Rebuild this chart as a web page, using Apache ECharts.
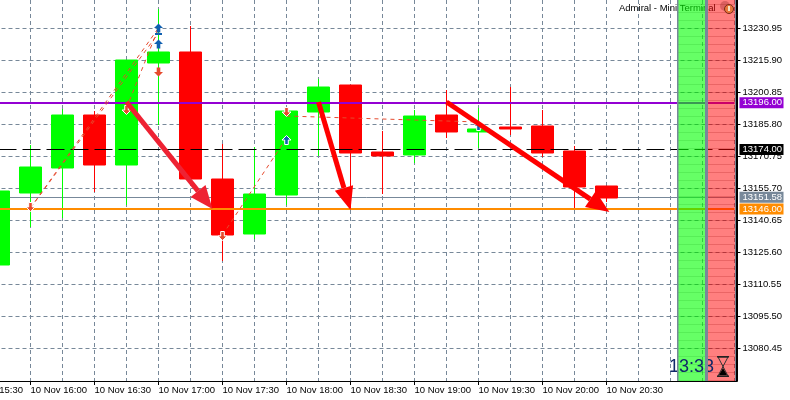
<!DOCTYPE html>
<html><head><meta charset="utf-8">
<style>html,body{margin:0;padding:0;background:#fff}#c{width:790px;height:400px}</style>
<script src="https://cdn.jsdelivr.net/npm/echarts@6/dist/echarts.min.js"></script>
</head><body><div id="c"></div>
<script>
const categories = ['15:30','15:45','16:00','16:15','16:30','16:45','17:00','17:15','17:30','17:45','18:00','18:15','18:30','18:45','19:00','19:15','19:30','19:45','20:00','20:15','20:30','20:45','21:00','21:15','21:30'];
// [open, close, low, high]
const candles = [
  '-',
  [13119.71,13154.52,13119.71,13154.52],
  [13153.57,13165.80,13137.58,13176.15],
  [13165.33,13190.26,13141.81,13193.09],
  [13190.26,13166.74,13154.05,13192.14],
  [13166.74,13216.13,13147.93,13216.13],
  [13214.72,13219.90,13185.56,13240.12],
  [13219.90,13160.16,13160.16,13232.12],
  [13160.16,13133.82,13121.59,13176.62],
  [13134.29,13153.10,13131.94,13175.21],
  [13152.63,13192.14,13147.93,13192.14],
  [13191.67,13203.43,13170.98,13207.20],
  [13204.37,13172.39,13145.58,13204.37],
  [13172.86,13170.98,13153.10,13182.74],
  [13171.45,13189.79,13167.68,13192.61],
  [13190.26,13182.27,13179.44,13202.02],
  [13182.27,13183.68,13174.74,13193.56],
  [13184.62,13183.68,13180.86,13203.43],
  [13185.09,13172.39,13170.50,13192.61],
  [13173.33,13156.40,13146.52,13175.68],
  [13156.87,13151.22,13149.34,13156.87],
  '-','-','-','-'
];
const yTicks = [13230.95,13215.90,13200.85,13185.80,13170.75,13155.70,13140.65,13125.60,13110.55,13095.50,13080.45];
const levelPurple = 13196.00, levelBlack = 13174.00, levelGray = 13151.58, levelOrange = 13146.00;
// x in category-index units: [x1, y1, x2, y2]
const tradeLines = [
  [2,13146.52,6,13231.19],
  [2,13146.52,6,13228.83],
  [5,13193.56,6,13231.19],
  [8,13133.82,10,13179.44],
  [10,13189.79,16,13186.97]
];
const arrowsSoft = [[5,13196.38,7.6875,13146.05]];
const arrowsPure = [[11,13196.38,12,13145.58],[15,13196.38,20.09,13144.64]];
const buyPlain = [[6,13231.19],[6,13223.66]];
const buyOutlined = [[10,13178.50],[16,13185.09]];
const buyDash = [[6,13228.36]];
const sellPlain = [[6,13210.50]];
const sellOutlined = [[5,13192.61],[2,13146.99],[8,13133.35],[10,13191.67]];

const UP='path://M5 0 L10 5 L7 5 L7 10 L3 10 L3 5 L0 5 Z';
const DOWN='path://M3 0 L7 0 L7 5 L10 5 L5 10 L0 5 L3 5 Z';
const BLUE='#1060b0', ORANGERED='#e64a2e', GRID='#778899';
const FONT='Liberation Sans, sans-serif';
const showTick=i=>i%2===0&&i<=20;

function tag(value,bg,lineStyle){
  return {yAxis:value,lineStyle:lineStyle,symbol:'none',
    label:{show:true,position:'end',distance:5,formatter:value.toFixed(2),color:'#fff',backgroundColor:bg,
      fontFamily:FONT,fontSize:9.5,padding:[1,3,0,3],height:10,width:38,align:'left',lineHeight:10}};
}
function levelSeries(z,items){
  return {type:'line',data:[],xAxisIndex:0,yAxisIndex:0,z:z,silent:true,
    markLine:{silent:true,symbol:'none',animation:false,z:z,data:items}};
}
function arrowSeries(data,color){
  return {type:'custom',xAxisIndex:1,yAxisIndex:0,z:8,silent:true,clip:false,data:data,
    encode:{x:[0,2],y:[1,3]},
    renderItem(params,api){
      const a=api.coord([api.value(0),api.value(1)]), b=api.coord([api.value(2),api.value(3)]);
      const dx=b[0]-a[0],dy=b[1]-a[1],L=Math.hypot(dx,dy),ux=dx/L,uy=dy/L;
      const hl=23,hw=9.5,mx=b[0]-ux*hl,my=b[1]-uy*hl;
      return {type:'group',children:[
        {type:'line',shape:{x1:a[0],y1:a[1],x2:mx,y2:my},style:{stroke:color,lineWidth:5,fill:null}},
        {type:'polygon',shape:{points:[[b[0],b[1]],[mx-uy*hw,my+ux*hw],[mx+uy*hw,my-ux*hw]]},style:{fill:color}}
      ]};
    }};
}
function markerSeries(data,symbol,color,size,border){
  return {type:'scatter',xAxisIndex:1,yAxisIndex:0,z:7,silent:true,data:data,symbol:symbol,symbolSize:size,
    itemStyle:{color:color,opacity:1,borderColor:border?'#fff':color,borderWidth:border?1:0}};
}

// Panels and overlays
const gfx=[];
gfx.push({type:'text',z:90,style:{x:619,y:3,text:'Admiral - Mini Terminal',fill:'#000',font:'9.5px Liberation Sans, sans-serif'}});
gfx.push({type:'rect',z:100,shape:{x:678,y:0,width:27,height:381},style:{fill:'rgba(0,255,0,0.6)'}});
gfx.push({type:'rect',z:100,shape:{x:708,y:0,width:27,height:381},style:{fill:'rgba(255,0,0,0.5)'}});
for(let y=4;y<381;y+=8){
  gfx.push({type:'rect',z:101,shape:{x:678,y:y,width:27,height:1},style:{fill:'rgba(0,140,0,0.14)'}});
  gfx.push({type:'rect',z:101,shape:{x:708,y:y,width:27,height:1},style:{fill:'rgba(150,0,0,0.2)'}});
}
gfx.push({type:'text',z:101,style:{x:669,y:358,text:'13:33',fill:'#102868',font:'18px Liberation Sans, sans-serif'}});
gfx.push({type:'rect',z:102,shape:{x:677,y:0,width:1.5,height:381},style:{fill:GRID}});
gfx.push({type:'rect',z:102,shape:{x:705,y:0,width:3,height:381},style:{fill:GRID}});
gfx.push({type:'rect',z:102,shape:{x:735,y:0,width:1,height:381},style:{fill:GRID}});
gfx.push({type:'rect',z:103,shape:{x:734,y:381,width:3,height:1},style:{fill:'#000'}});
// hourglass
gfx.push({type:'polyline',z:104,shape:{points:[[718,357],[728,357],[718,376],[728,376],[718,357]]},style:{stroke:'#333',fill:null,lineWidth:1}});
gfx.push({type:'rect',z:104,shape:{x:717,y:356,width:12,height:1.5},style:{fill:'#222'}});
gfx.push({type:'rect',z:104,shape:{x:717,y:375.5,width:12,height:1.5},style:{fill:'#222'}});
gfx.push({type:'polygon',z:104,shape:{points:[[723,368],[719,375],[727,375]]},style:{fill:'#000'}});
// clock icon
gfx.push({type:'circle',z:104,shape:{cx:725,cy:6,r:5},style:{fill:'rgba(150,40,40,0.35)'}});
gfx.push({type:'circle',z:104,shape:{cx:729,cy:9,r:4.5},style:{fill:'#e8763a',stroke:'#7a2a18',lineWidth:1}});
gfx.push({type:'rect',z:105,shape:{x:728,y:6,width:2,height:5},style:{fill:'#f6e0c0'}});

const option={
  animation:false,
  backgroundColor:'#fff',
  grid:{left:-33.5,top:0,width:768,height:381,containLabel:false,outerBoundsMode:'none'},
  xAxis:[{
    type:'category',data:categories,boundaryGap:false,position:'bottom',
    axisLine:{show:true,lineStyle:{color:'#000',width:1}},
    axisTick:{show:true,interval:i=>showTick(i),length:4,lineStyle:{color:'#000'}},
    axisLabel:{interval:i=>showTick(i),align:'left',margin:4,color:'#000',fontFamily:FONT,fontSize:9.5,
      formatter:v=>'10 Nov '+v,hideOverlap:false,showMinLabel:true,showMaxLabel:true},
    splitLine:{show:true,interval:0,lineStyle:{color:GRID,type:[4,3],width:1}}
  },{
    type:'value',min:0,max:24,show:false,position:'top',splitLine:{show:false},axisLabel:{show:false}
  }],
  yAxis:{
    type:'value',position:'right',offset:2,min:13065.15,max:13244.355,scale:true,
    axisLine:{show:true,onZero:false,lineStyle:{color:'#000',width:2}},
    axisTick:{show:true,length:4,lineStyle:{color:'#000'},customValues:yTicks},
    axisLabel:{margin:6,color:'#000',fontFamily:FONT,fontSize:9.5,customValues:yTicks,
      formatter:v=>Number(v).toFixed(2),hideOverlap:false},
    splitLine:{show:true,lineStyle:{color:GRID,type:[4,3],width:1}}
  },
  graphic:{elements:gfx},
  series:[
    levelSeries(1,[tag(levelGray,GRID,{color:GRID,width:1,type:'solid'})]),
    {type:'candlestick',data:candles,xAxisIndex:0,yAxisIndex:0,z:3,barWidth:23,silent:true,
      itemStyle:{color:'#00ff00',color0:'#ff0000',borderColor:'#00ff00',borderColor0:'#ff0000',borderWidth:1}},
    levelSeries(5,[
      tag(levelPurple,'#9400d3',{color:'#9400d3',width:2,type:'solid'}),
      tag(levelBlack,'#000',{color:'#000',width:1,type:[18,6],dashOffset:16}),
      tag(levelOrange,'#ff8c00',{color:'#ff8c00',width:2,type:'solid'})
    ]),
    {type:'custom',xAxisIndex:1,yAxisIndex:0,z:6,silent:true,data:tradeLines,encode:{x:[0,2],y:[1,3]},
      renderItem(params,api){
        const a=api.coord([api.value(0),api.value(1)]), b=api.coord([api.value(2),api.value(3)]);
        return {type:'line',shape:{x1:a[0],y1:a[1],x2:b[0],y2:b[1]},style:{stroke:ORANGERED,lineWidth:1,lineDash:[4,4],fill:null}};
      }},
    markerSeries(buyPlain,UP,BLUE,[9,9],false),
    markerSeries(buyOutlined,UP,BLUE,[9,9],true),
    markerSeries(buyDash,'rect',BLUE,[7,2],false),
    markerSeries(sellPlain,DOWN,ORANGERED,[9,9],false),
    markerSeries(sellOutlined,DOWN,ORANGERED,[9,9],true),
    arrowSeries(arrowsSoft,'#ee2233'),
    arrowSeries(arrowsPure,'#ff0000')
  ]
};
const chart=echarts.init(document.getElementById('c'),null,{renderer:'canvas'});
chart.setOption(option);
</script></body></html>
